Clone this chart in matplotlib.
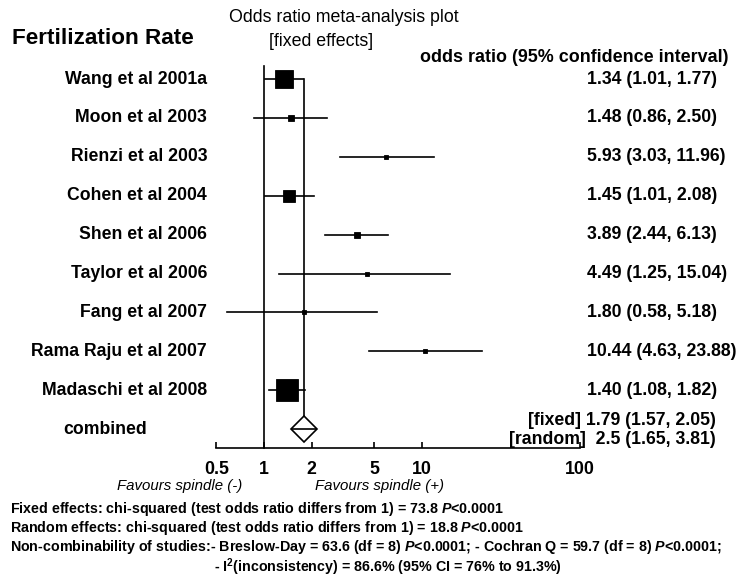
import numpy as np
import matplotlib
matplotlib.use("Agg")
import matplotlib.pyplot as plt

plt.rcParams['font.family'] = ['Liberation Sans', 'DejaVu Sans']
plt.rcParams['mathtext.fontset'] = 'custom'
plt.rcParams['mathtext.rm'] = 'Liberation Sans:bold'
plt.rcParams['mathtext.bf'] = 'Liberation Sans:bold'
plt.rcParams['mathtext.it'] = 'Liberation Sans:italic:bold'

studies = ['Wang et al 2001a', 'Moon et al 2003', 'Rienzi et al 2003', 'Cohen et al 2004',
           'Shen et al 2006', 'Taylor et al 2006', 'Fang et al 2007', 'Rama Raju et al 2007',
           'Madaschi et al 2008']
odds = [1.34, 1.48, 5.93, 1.45, 3.89, 4.49, 1.80, 10.44, 1.40]
lo = [1.01, 0.86, 3.03, 1.01, 2.44, 1.25, 0.58, 4.63, 1.08]
hi = [1.77, 2.50, 11.96, 2.08, 6.13, 15.04, 5.18, 23.88, 1.82]
weights = [31.6, 4.3, 2.2, 13.6, 3.7, 1.0, 1.0, 1.0, 42.3]  # % (box area)
or_labels = ['1.34 (1.01, 1.77)', '1.48 (0.86, 2.50)', '5.93 (3.03, 11.96)',
             '1.45 (1.01, 2.08)', '3.89 (2.44, 6.13)', '4.49 (1.25, 15.04)',
             '1.80 (0.58, 5.18)', '10.44 (4.63, 23.88)', '1.40 (1.08, 1.82)']
fixed_or = 1.79
fixed_txt = '[fixed] 1.79 (1.57, 2.05)'
random_txt = '[random]  2.5 (1.65, 3.81)'
xticks = [0.5, 1, 2, 5, 10, 100]
xticklabels = ['0.5', '1', '2', '5', '10', '100']

W, H = 750, 577
fig = plt.figure(figsize=(W / 100, H / 100), dpi=100)

def fx(px):
    return px / W

def fy(py):
    return 1 - py / H

# axis: 0.5 -> 216.4 px, 100 -> 580 px ; rows: 79 px + i*38.9, axis line at 448 px
row_h = 38.9
top_px, bot_px = 60, 448
ax = fig.add_axes([fx(216.4), fy(bot_px), fx(580 - 216.4), (bot_px - top_px) / H])
ax.set_xscale('log')
ax.set_xlim(0.5, 100)
n = len(studies)
ax.set_ylim(n + (bot_px - (79 + n * row_h)) / row_h, (top_px - 79) / row_h)
for s in ['top', 'left', 'right']:
    ax.spines[s].set_visible(False)
ax.spines['bottom'].set_linewidth(1.2)
ax.set_yticks([])
ax.set_xticks(xticks)
ax.set_xticklabels(xticklabels, fontsize=12.8, fontweight='bold')
ax.minorticks_off()
ax.tick_params(axis='x', direction='in', length=4, width=1.2, pad=9)
ax.patch.set_visible(False)

lw = 1.2
ybot = ax.get_ylim()[0]
ax.plot([1, 1], [(66 - 79) / row_h, ybot], color='black', lw=lw, clip_on=False)
ax.plot([fixed_or, fixed_or], [0, n], color='black', lw=lw, clip_on=False)

for i in range(n):
    ax.plot([lo[i], hi[i]], [i, i], color='black', lw=lw, clip_on=False)
    side_pt = 3.3 * np.sqrt(weights[i]) * 0.72
    ax.plot([odds[i]], [i], marker='s', ms=side_pt, color='black', mew=0.6, clip_on=False)

ax.plot([fixed_or], [n], marker='D', ms=13.2, mfc='white', mec='black', mew=lw,
        clip_on=False, zorder=5)
ax.plot([fixed_or], [n], marker='_', ms=18.4, mec='black', mew=lw, clip_on=False, zorder=6)

# text
fig.text(fx(12), fy(38), 'Fertilization Rate', fontsize=16.2, fontweight='bold', va='center')
fig.text(fx(344), fy(18), 'Odds ratio meta-analysis plot', fontsize=12.8, ha='center', va='center')
fig.text(fx(321), fy(42), '[fixed effects]', fontsize=12.8, ha='center', va='center')
fig.text(fx(728), fy(58), 'odds ratio (95% confidence interval)', fontsize=12.9,
         fontweight='bold', ha='right', va='center')

for i in range(n):
    y = 79 + i * row_h
    fig.text(fx(207), fy(y), studies[i], fontsize=12.7, fontweight='bold', ha='right', va='center')
    fig.text(fx(587), fy(y), or_labels[i], fontsize=12.7, fontweight='bold', ha='left', va='center')

yc = 79 + n * row_h
fig.text(fx(63), fy(yc), 'combined', fontsize=12.7, fontweight='bold', ha='left', va='center')
fig.text(fx(716), fy(yc - 9), fixed_txt, fontsize=12.7, fontweight='bold', ha='right', va='center')
fig.text(fx(716), fy(yc + 10), random_txt, fontsize=12.7, fontweight='bold', ha='right', va='center')

fig.text(fx(242), fy(486), 'Favours spindle (-)', fontsize=10.8, style='italic', ha='right', va='center')
fig.text(fx(315), fy(486), 'Favours spindle (+)', fontsize=10.8, style='italic', ha='left', va='center')

foot = [
    (10, 509, 'Fixed effects: chi-squared (test odds ratio differs from 1) = 73.8 $P$<0.0001'),
    (10, 528, 'Random effects: chi-squared (test odds ratio differs from 1) = 18.8 $P$<0.0001'),
    (10, 547, 'Non-combinability of studies:- Breslow-Day = 63.6 (df = 8) $P$<0.0001; '
              '- Cochran Q = 59.7 (df = 8) $P$<0.0001;'),
    (214, 567, '- I$^{2}$(inconsistency) = 86.6% (95% CI = 76% to 91.3%)'),
]
for x, y, t in foot:
    fig.text(fx(x), fy(y), t, fontsize=10.3, fontweight='bold', ha='left', va='center')

fig.savefig('out.png', dpi=100)
